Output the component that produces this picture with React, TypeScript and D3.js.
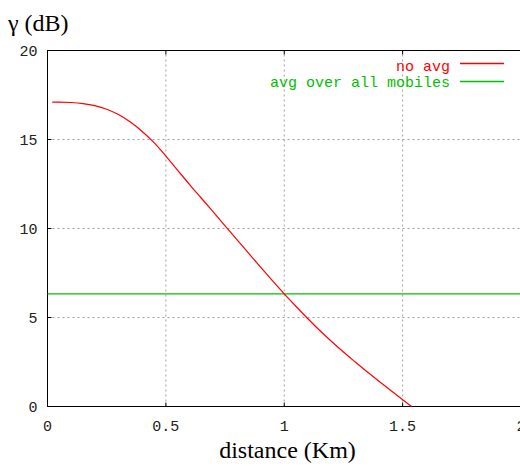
import React from "react";
import * as d3 from "d3";

const distances = [0.02, 0.05, 0.1, 0.15, 0.2, 0.25, 0.3, 0.35, 0.4, 0.45, 0.5, 0.55, 0.6, 0.65, 0.7, 0.75, 0.8, 0.85, 0.9, 0.95, 1.0, 1.05, 1.1, 1.15, 1.2, 1.25, 1.3, 1.35, 1.4, 1.45, 1.5, 1.538];
const noAvg = [17.1, 17.1, 17.08, 17.02, 16.9, 16.7, 16.4, 15.98, 15.45, 14.82, 14.07, 13.27, 12.47, 11.7, 10.93, 10.15, 9.38, 8.6, 7.83, 7.07, 6.33, 5.62, 4.93, 4.27, 3.65, 3.06, 2.5, 1.95, 1.42, 0.9, 0.38, 0];
const avgAll = 6.33;
const xTicks = [0, 0.5, 1, 1.5, 2];
const yTicks = [0, 5, 10, 15, 20];
const legendLabels = ["no avg", "avg over all mobiles"];

export default function App() {
  const W = 520, H = 466;
  const x = d3.scaleLinear().domain([0, 2]).range([47.5, 521]);
  const y = d3.scaleLinear().domain([0, 20]).range([406.5, 50.5]);
  const line = d3.line<number>().x((_, i) => x(distances[i])).y((d) => y(d)).curve(d3.curveMonotoneX);
  const mono = "'Liberation Mono', 'DejaVu Sans Mono', monospace";
  const serif = "'Liberation Serif', 'DejaVu Serif', serif";
  const x0 = x(0), x1 = x(2), y0 = y(0), y1 = y(20);
  return (
    <svg width={W} height={H} style={{ position: "absolute", left: 0, top: 0 }}>
      <rect width={W} height={H} fill="#fff" />
      {xTicks.filter((t) => t > 0 && t < 2).map((t) => (
        <line key={"gx" + t} x1={x(t)} x2={x(t)} y1={y0} y2={y1} stroke="#a0a0a0" strokeWidth={1} strokeDasharray="2,3" />
      ))}
      {yTicks.filter((t) => t > 0 && t < 20).map((t) => (
        <line key={"gy" + t} x1={x0} x2={x1} y1={y(t)} y2={y(t)} stroke="#a0a0a0" strokeWidth={1} strokeDasharray="2,3" />
      ))}
      <rect x={x0} y={y1} width={x1 - x0} height={y0 - y1} fill="none" stroke="#000" strokeWidth={1} />
      {xTicks.map((t) => (
        <g key={"tx" + t}>
          <line x1={x(t)} x2={x(t)} y1={y0} y2={y0 - 4} stroke="#000" />
          <line x1={x(t)} x2={x(t)} y1={y1} y2={y1 + 4} stroke="#000" />
          <text x={x(t)} y={431} textAnchor="middle" fontFamily={mono} fontSize={15} fill="#222">{t}</text>
        </g>
      ))}
      {yTicks.map((t) => (
        <g key={"ty" + t}>
          <line x1={x0} x2={x0 + 4} y1={y(t)} y2={y(t)} stroke="#000" />
          <text x={37.5} y={y(t) + 5.5} textAnchor="end" fontFamily={mono} fontSize={15} fill="#222">{t}</text>
        </g>
      ))}
      <line x1={x0} x2={x1} y1={y(avgAll)} y2={y(avgAll)} stroke="#00c000" strokeWidth={1.2} />
      <path d={line(noAvg) || ""} fill="none" stroke="#ff0000" strokeWidth={1.2} />
      <text x={450} y={70.5} textAnchor="end" fontFamily={mono} fontSize={15} fill="#ff0000">{legendLabels[0]}</text>
      <line x1={460} x2={504} y1={63.5} y2={63.5} stroke="#ff0000" strokeWidth={1.3} />
      <text x={450} y={87} textAnchor="end" fontFamily={mono} fontSize={15} fill="#00c000">{legendLabels[1]}</text>
      <line x1={460} x2={504} y1={81.5} y2={81.5} stroke="#00c000" strokeWidth={1.3} />
      <text x={8} y={31} fontFamily={serif} fontSize={24} fill="#000">γ (dB)</text>
      <text x={287.5} y={458} textAnchor="middle" fontFamily={serif} fontSize={24} fill="#000">distance (Km)</text>
    </svg>
  );
}
